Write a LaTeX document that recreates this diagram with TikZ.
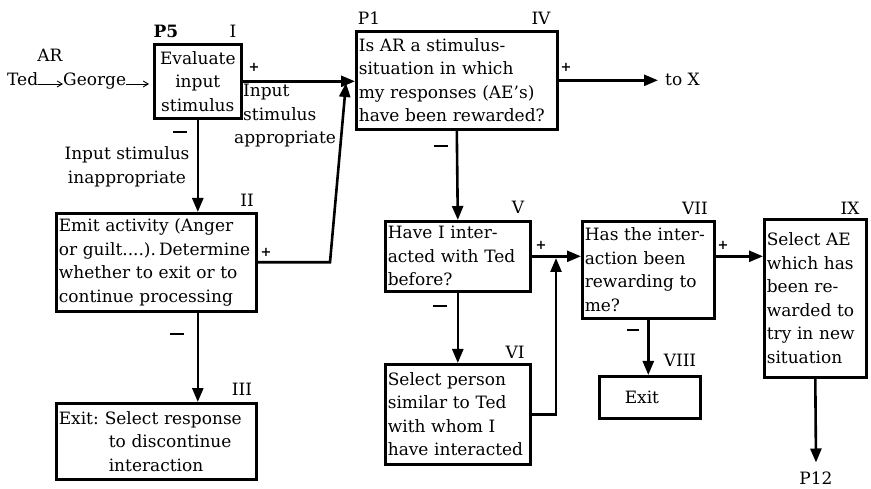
\documentclass[tikz,border=0pt]{standalone}
\usepackage{fontspec}
\setmainfont{DejaVu Serif}
\usetikzlibrary{arrows.meta}
\newcommand\myfs{\fontsize{17}{23.5}\selectfont}
\begin{document}
\begin{tikzpicture}[x=1pt,y=-1pt,
  box/.style={draw, line width=2.6pt, anchor=north west, inner sep=2.5pt, font=\myfs, align=left},
  lab/.style={font=\myfs, inner sep=0pt},
  pl/.style={font=\fontsize{13}{13}\selectfont\bfseries, inner sep=0pt},
  mn/.style={inner sep=0pt},
  flow/.style={line width=2.6pt, -{Triangle[length=14pt,width=11pt]}},
  thinarr/.style={line width=0.9pt, -{Straight Barb[length=5pt,width=6pt]}}]
\useasboundingbox[fill=white] (0,0) rectangle (871,489);

% boxes
\node[box, text width=82pt, minimum height=74pt, align=center] (b1) at (153,43) {Evaluate\\input\\stimulus};
\node[box, text width=195pt, minimum height=98pt] (b2) at (55,212) {Emit activity (Anger\\or guilt....).\hspace{3pt}Determine\\whether to exit or to\\continue processing};
\node[box, text width=195pt, minimum height=76pt] (b3) at (55,402) {Exit:\hspace{6pt}Select response\\\hspace*{50pt}to discontinue\\\hspace*{50pt}interaction};
\node[box, text width=196pt, minimum height=98pt] (b4) at (355,30) {Is AR a stimulus-\\situation in which\\my responses (AE's)\\have been rewarded?};
\node[box, text width=140pt, minimum height=70pt] (b5) at (384,220) {Have I inter-\\acted with Ted\\before?};
\node[box, text width=140pt, minimum height=100pt] (b6) at (384,363) {Select person\\similar to Ted\\with whom I\\have interacted};
\node[box, text width=127pt, minimum height=97pt] (b7) at (581,220) {Has the inter-\\action been\\rewarding to\\me?};
\node[box, text width=96pt, minimum height=42pt] (b8) at (598,375) {\hspace*{23pt}Exit};
\node[box, text width=97pt, minimum height=158pt] (b9) at (763,218) {Select AE\\which has\\been re-\\warded to\\try in new\\situation};

% box labels
\node[lab, font=\myfs\bfseries] (lp5) at (166,31) {P5};
\node[lab] (l1) at (233,31) {I};
\node[lab] (lp1) at (369,18) {P1};
\node[lab] (l4) at (541,18) {IV};
\node[lab] (l2) at (247,200) {II};
\node[lab] (l3) at (242,389) {III};
\node[lab] (l5) at (518,207) {V};
\node[lab] (l6) at (515,352) {VI};
\node[lab] (l7) at (695,208) {VII};
\node[lab] (l8) at (680,360) {VIII};
\node[lab] (l9) at (850,208) {IX};

% free texts
\node[lab, anchor=base] (ar) at (50,62) {AR};
\node[lab, anchor=base west] (ted) at (7,86) {Ted};
\node[lab, anchor=base west] (george) at (63,86) {George};
\node[lab, anchor=west, align=left] (app) at (234,116) {\hspace*{9pt}Input\\\hspace*{9pt}stimulus\\appropriate};
\node[lab, align=center] (inapp) at (127,167) {Input stimulus\\inappropriate};
\node[lab, anchor=west, inner xsep=7pt] (tox) at (658,79) {to X};
\node[lab] (p12) at (816,478) {P12};

% junction coordinates
\coordinate (gtip) at (149,84);
\coordinate (k1) at (330,261);
\coordinate (j1) at (346,83);
\coordinate (j2) at (556,258);

% thin input arrows
\draw[thinarr] ([yshift=2pt]ted.base east) -- ([yshift=2pt]george.base west);
\draw[thinarr] ([yshift=2pt]george.base east) -- (gtip);

% flows
\draw[flow] (b1.east) -- (b1.east -| b4.west);
\draw[flow] (b1.south) -- (b1.south |- b2.north);
\draw[flow] (b2.east) -- (b2.east -| k1) -- (j1);
\draw[flow] (b2.south -| b1.south) -- (b3.north -| b1.south);
\draw[flow] (b4.east) -- (b4.east -| tox.west);
\draw[flow] (b4.south) -- (b5.north);
\draw[flow] (b5.east) -- (b5.east -| b7.west);
\draw[flow] (b5.south) -- (b6.north);
\draw[flow] (b6.east) -| (j2);
\draw[flow] (b7.south) -- (b7.south |- b8.north);
\draw[flow] (b5.east -| b7.east) -- (b5.east -| b9.west);
\draw[flow] (b9.south) -- ([yshift=9pt]p12.north);

% signs
\node[pl] (s1) at (254,67) {+};
\node[pl] (s2) at (266,252) {+};
\node[pl] (s3) at (566,67) {+};
\node[pl] (s4) at (541,245) {+};
\node[pl] (s5) at (723,245) {+};
\node[mn] (m1) at (180,132) {\rule{14pt}{2pt}};
\node[mn] (m2) at (177,334) {\rule{14pt}{2pt}};
\node[mn] (m3) at (441,146) {\rule{14pt}{2pt}};
\node[mn] (m4) at (440,306) {\rule{14pt}{2pt}};
\node[mn] (m5) at (633,330) {\rule{12pt}{2pt}};
\end{tikzpicture}
\end{document}
